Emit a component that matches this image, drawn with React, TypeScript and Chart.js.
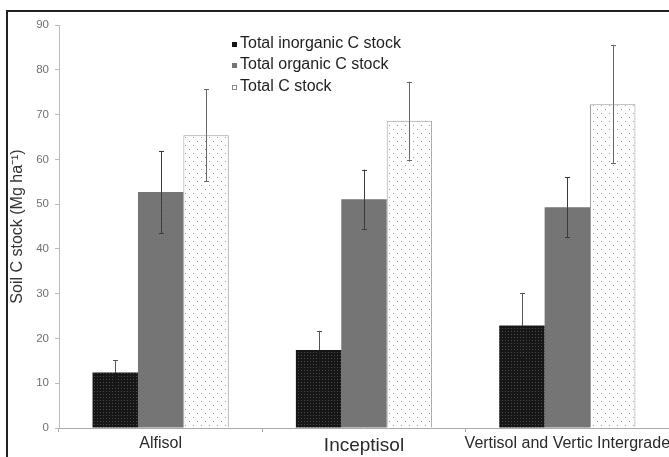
import React, { useEffect, useRef } from "react";
import { Chart, registerables } from "chart.js";

Chart.register(...registerables);

const categories = ["Alfisol", "Inceptisol", "Vertisol and Vertic Intergrade"];
const seriesLabels = ["Total inorganic C stock", "Total organic C stock", "Total C stock"];
const inorganic = [12.4, 17.4, 22.9];
const inorganicErr = [2.8, 4.3, 7.2];
const organic = [52.7, 51.1, 49.3];
const organicErr = [9.2, 6.6, 6.7];
const total = [65.4, 68.6, 72.3];
const totalErr = [10.3, 8.7, 13.2];
const yTicks = [0, 10, 20, 30, 40, 50, 60, 70, 80, 90];
const yTitle = "Soil C stock (Mg ha\u207B\u00B9)";

const FONT = "'Liberation Sans', Arial, sans-serif";

function makePattern(size: number, bg: string, dots: [number, number][], dot: string) {
  const c = document.createElement("canvas");
  c.width = size;
  c.height = size;
  const g = c.getContext("2d")!;
  g.fillStyle = bg;
  g.fillRect(0, 0, size, size);
  g.fillStyle = dot;
  dots.forEach(([x, y]) => g.fillRect(x, y, 1, 1));
  const ctx = document.createElement("canvas").getContext("2d")!;
  return ctx.createPattern(c, "repeat")!;
}

export default function App() {
  const ref = useRef<HTMLCanvasElement>(null);
  useEffect(() => {
    const pInorg = makePattern(3, "#161616", [[1, 1]], "#4a4a4a");
    const pOrg = makePattern(4, "#767676", [[1, 1], [3, 3]], "#6c6c6c");
    const pTot = makePattern(8, "#ffffff", [[1, 1], [5, 5]], "#9a9a9a");
    const errs = [inorganicErr, organicErr, totalErr];
    const errUpper = ["#555", "#3a3a3a", "#666"];
    const errLower = ["#1c1c1c", "#3a3a3a", "#666"];
    const legendColors = [
      { fill: "#161616", stroke: "#161616" },
      { fill: "#767676", stroke: "#767676" },
      { fill: "#ffffff", stroke: "#888" },
    ];

    const framePlugin = {
      id: "frame",
      beforeDraw(chart: any) {
        const c = chart.ctx;
        c.save();
        c.fillStyle = "#fff";
        c.fillRect(0, 0, chart.width, chart.height);
        c.strokeStyle = "#222";
        c.lineWidth = 2;
        c.beginPath();
        c.moveTo(7, chart.height + 2);
        c.lineTo(7, 11);
        c.lineTo(chart.width + 2, 11);
        c.stroke();
        c.restore();
      },
    };

    const errorPlugin = {
      id: "errbars",
      afterDatasetsDraw(chart: any) {
        const c = chart.ctx;
        const ys = chart.scales.y;
        c.save();
        c.lineWidth = 1;
        chart.data.datasets.forEach((ds: any, i: number) => {
          const meta = chart.getDatasetMeta(i);
          meta.data.forEach((el: any, j: number) => {
            const v = ds.data[j];
            const e = errs[i][j];
            const x = Math.round(el.x) + 0.5;
            const ym = ys.getPixelForValue(v);
            const yt = ys.getPixelForValue(v + e);
            const yb = ys.getPixelForValue(v - e);
            c.strokeStyle = errUpper[i];
            c.beginPath();
            c.moveTo(x, yt);
            c.lineTo(x, ym);
            c.moveTo(x - 2.5, Math.round(yt) + 0.5);
            c.lineTo(x + 2.5, Math.round(yt) + 0.5);
            c.stroke();
            c.strokeStyle = errLower[i];
            c.beginPath();
            c.moveTo(x, ym);
            c.lineTo(x, yb);
            c.moveTo(x - 2.5, Math.round(yb) + 0.5);
            c.lineTo(x + 2.5, Math.round(yb) + 0.5);
            c.stroke();
          });
        });
        c.restore();
      },
    };

    const legendPlugin = {
      id: "customLegend",
      afterDraw(chart: any) {
        const c = chart.ctx;
        c.save();
        c.font = `16px ${FONT}`;
        c.textBaseline = "middle";
        const ys = [44, 65, 87];
        chart.data.datasets.forEach((ds: any, i: number) => {
          const col = legendColors[i];
          c.fillStyle = col.fill;
          c.fillRect(232, ys[i] - 2, 5, 5);
          c.strokeStyle = col.stroke;
          c.lineWidth = 1;
          c.strokeRect(232.5, ys[i] - 1.5, 4, 4);
          c.fillStyle = "#1e1e1e";
          c.fillText(ds.label, 240, ys[i]);
        });
        c.restore();
      },
    };

    const chart = new Chart(ref.current!, {
      type: "bar",
      data: {
        labels: categories,
        datasets: [
          { label: seriesLabels[0], data: inorganic, backgroundColor: pInorg as any, borderWidth: 0 },
          { label: seriesLabels[1], data: organic, backgroundColor: pOrg as any, borderWidth: 0 },
          { label: seriesLabels[2], data: total, backgroundColor: pTot as any, borderColor: "#9a9a9a", borderWidth: 1 },
        ],
      },
      options: {
        animation: false,
        responsive: false,
        maintainAspectRatio: false,
        devicePixelRatio: 1,
        layout: { padding: { top: 25, left: 0, right: 0, bottom: 0 } },
        datasets: { bar: { categoryPercentage: 0.67, barPercentage: 1 } },
        plugins: { legend: { display: false }, tooltip: { enabled: false } },
        scales: {
          x: {
            grid: { drawOnChartArea: false, drawTicks: true, tickLength: 4, color: "#aaa", offset: true },
            border: { color: "#aaa", width: 1 },
            ticks: {
              maxRotation: 0,
              minRotation: 0,
              autoSkip: false,
              padding: 2,
              color: "#2a2a2a",
              font: ((ctx: any) => ({ family: FONT, size: ctx.index === 1 ? 19 : 16 })) as any,
            },
            afterFit(scale: any) {
              scale.height = 29;
              scale.paddingLeft = 0;
              scale.paddingRight = 0;
            },
          },
          y: {
            min: 0,
            max: 90,
            afterBuildTicks(scale: any) {
              scale.ticks = yTicks.map((v) => ({ value: v }));
            },
            grid: { drawOnChartArea: false, drawTicks: true, tickLength: 4, color: "#bbb" },
            border: { color: "#bbb", width: 1 },
            ticks: { padding: 6, color: "#707070", font: { family: FONT, size: 11.5 } },
            title: {
              display: true,
              text: yTitle,
              color: "#333",
              font: { family: FONT, size: 16 },
              padding: { top: 8, bottom: 0 },
            },
            afterFit(scale: any) {
              scale.width = 59;
            },
          },
        },
      },
      plugins: [framePlugin, errorPlugin, legendPlugin],
    });
    return () => chart.destroy();
  }, []);

  return (
    <div style={{ position: "fixed", left: 0, top: 0, width: 669, height: 457, overflow: "hidden", background: "#fff" }}>
      <canvas ref={ref} width={669} height={457} style={{ display: "block", width: 669, height: 457 }} />
    </div>
  );
}
